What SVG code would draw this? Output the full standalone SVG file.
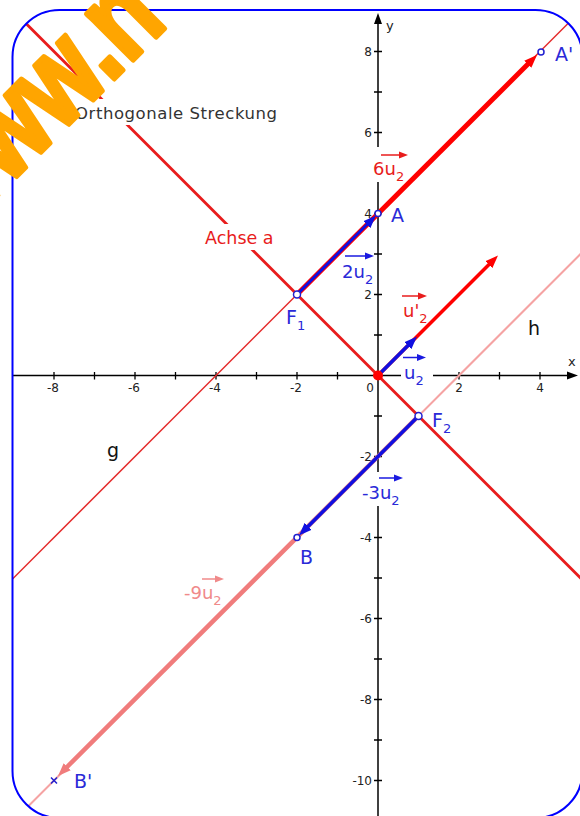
<svg xmlns="http://www.w3.org/2000/svg" width="580" height="816" viewBox="0 0 580 816">
<style>
.ax{stroke:#000;stroke-width:1.5;fill:none}
.tk{stroke:#000;stroke-width:1.3}
.tl{font-family:"DejaVu Sans",Verdana,sans-serif;font-size:12px;fill:#222}
.lbl{font-family:"DejaVu Sans",Verdana,sans-serif;font-size:18px}
.pt{font-family:"DejaVu Sans",Verdana,sans-serif;font-size:19px;fill:#2a2ad8}
.blue{fill:#2a2ad8}
.red{fill:#e81c1c}
.pink{fill:#f08a8a}
.blk{fill:#111}
.sub{font-size:13px}
.bg{fill:#fff}
</style>
<defs>
<clipPath id="frame"><rect x="12.5" y="10" width="570" height="808" rx="47" ry="47"/></clipPath>
<marker id="axh" markerUnits="userSpaceOnUse" markerWidth="12" markerHeight="10" viewBox="0 -5 12 10" refX="1" refY="0" orient="auto"><path d="M0,-4 L11,0 L0,4 z" fill="#000"/></marker>
<marker id="ahR" markerUnits="userSpaceOnUse" markerWidth="14" markerHeight="12" viewBox="0 -6 14 12" refX="1" refY="0" orient="auto"><path d="M0,-5 L13,0 L0,5 z" fill="#f00"/></marker>
<marker id="ahB" markerUnits="userSpaceOnUse" markerWidth="14" markerHeight="12" viewBox="0 -6 14 12" refX="1" refY="0" orient="auto"><path d="M0,-5 L13,0 L0,5 z" fill="#1010e0"/></marker>
<marker id="ahP" markerUnits="userSpaceOnUse" markerWidth="14" markerHeight="12" viewBox="0 -6 14 12" refX="1" refY="0" orient="auto"><path d="M0,-5 L13,0 L0,5 z" fill="#f07c7c"/></marker>
<marker id="smR" markerUnits="userSpaceOnUse" markerWidth="10" markerHeight="8" viewBox="0 -4 10 8" refX="1" refY="0" orient="auto"><path d="M0,-3.5 L9,0 L0,3.5 z" fill="#e81c1c"/></marker>
<marker id="smB" markerUnits="userSpaceOnUse" markerWidth="10" markerHeight="8" viewBox="0 -4 10 8" refX="1" refY="0" orient="auto"><path d="M0,-3.5 L9,0 L0,3.5 z" fill="#1a1ae0"/></marker>
<marker id="smP" markerUnits="userSpaceOnUse" markerWidth="10" markerHeight="8" viewBox="0 -4 10 8" refX="1" refY="0" orient="auto"><path d="M0,-3.5 L9,0 L0,3.5 z" fill="#f08a8a"/></marker>
</defs>
<rect width="580" height="816" fill="#fff"/>
<g clip-path="url(#frame)">
  <g id="axes">
    <line class="ax" x1="12" y1="375.5" x2="568" y2="375.5" marker-end="url(#axh)"/>
    <line class="ax" x1="378" y1="816" x2="378" y2="23" marker-end="url(#axh)"/>
    <path class="tk" d="M54,372v7.5M94.5,372v7.5M135,372v7.5M175.5,372v7.5M216,372v7.5M256.5,372v7.5M297,372v7.5M337.5,372v7.5M418.5,372v7.5M459,372v7.5M499.5,372v7.5M540,372v7.5"/>
    <path class="tk" d="M374,51.5h8M374,92h8M374,132.5h8M374,173h8M374,213.5h8M374,254h8M374,294.5h8M374,335h8M374,416h8M374,456.5h8M374,497h8M374,537.5h8M374,578h8M374,618.5h8M374,659h8M374,699.5h8M374,740h8M374,780.5h8"/>
    <g class="tl" text-anchor="middle">
      <text x="53" y="392">-8</text><text x="134" y="392">-6</text><text x="215" y="392">-4</text><text x="296" y="392">-2</text>
      <text x="370" y="392">0</text><text x="459" y="392">2</text><text x="540" y="392">4</text>
    </g>
    <g class="tl" text-anchor="end">
      <text x="372" y="56">8</text><text x="372" y="137">6</text><text x="372" y="218">4</text><text x="372" y="299">2</text>
      <text x="372" y="461">-2</text><text x="372" y="542">-4</text><text x="372" y="623">-6</text><text x="372" y="704">-8</text><text x="372" y="785">-10</text>
    </g>
    <text class="tl" x="568" y="366" style="font-size:13px">x</text>
    <text class="tl" x="386" y="30" style="font-size:13px">y</text>
  </g>
  <g id="connectors">
    <line id="line-g" x1="0" y1="591.5" x2="600" y2="-8.5" stroke="#e42a2a" stroke-width="1.5"/>
    <line id="line-h" x1="0" y1="834.5" x2="600" y2="234.5" stroke="#f5a3a3" stroke-width="2"/>
    <line id="axis-a" x1="0" y1="-2.5" x2="600" y2="597.5" stroke="#e81c1c" stroke-width="2.8"/>
  </g>
</g>
<g id="label-bgs">
  <rect class="bg" x="72" y="99" width="210" height="26"/>
  <rect class="bg" x="202" y="224" width="76" height="26"/>
  <rect class="bg" x="371" y="147" width="38" height="35"/>
  <rect class="bg" x="360" y="472" width="44" height="34"/>
  <rect class="bg" x="401" y="363" width="32" height="22"/>
</g>
<g id="vectors">
  <line id="v-6u2" x1="297" y1="294.5" x2="528.5" y2="63.5" stroke="#f00" stroke-width="5" marker-end="url(#ahR)"/>
  <line id="v-2u2" x1="297" y1="294.5" x2="367.5" y2="224" stroke="#1010e0" stroke-width="3" marker-end="url(#ahB)"/>
  <line id="v-u2p" x1="378" y1="375.5" x2="489.5" y2="264" stroke="#f00" stroke-width="3.5" marker-end="url(#ahR)"/>
  <line id="v-u2" x1="378" y1="375.5" x2="408.5" y2="345" stroke="#1010e0" stroke-width="3.5" marker-end="url(#ahB)"/>
  <line id="v-9u2" x1="418.5" y1="416" x2="66.5" y2="767.5" stroke="#f07c7c" stroke-width="4.5" marker-end="url(#ahP)"/>
  <line id="v-3u2" x1="418.5" y1="416" x2="307.5" y2="527" stroke="#1010e0" stroke-width="3.5" marker-end="url(#ahB)"/>
</g>
<g id="points">
  <g id="pt-A"><circle cx="378" cy="213.5" r="3" fill="#fff" stroke="#2020d0" stroke-width="1.5"/></g>
  <g id="pt-A2"><circle cx="541" cy="52" r="3" fill="#fff" stroke="#2020d0" stroke-width="1.5"/></g>
  <g id="pt-F1"><circle cx="297" cy="294.5" r="3.5" fill="#fff" stroke="#2020d0" stroke-width="1.5"/></g>
  <g id="pt-F2"><circle cx="418.5" cy="416" r="3.5" fill="#fff" stroke="#2020d0" stroke-width="1.5"/></g>
  <g id="pt-B"><circle cx="297" cy="537.5" r="3" fill="#fff" stroke="#2020d0" stroke-width="1.5"/></g>
  <g id="pt-B2"><path d="M51,777.5l6,6M57,777.5l-6,6" stroke="#2020d0" stroke-width="1.5"/></g>
  <g id="pt-O"><circle cx="378" cy="375.5" r="5" fill="#f00"/></g>
</g>
<g id="labels">
  <text x="75" y="119" style="font-family:'DejaVu Sans',Verdana,sans-serif;font-size:16.5px;fill:#333" textLength="202">Orthogonale Streckung</text>
  <text class="lbl red" x="205" y="244" style="font-size:17.5px">Achse a</text>
  <g id="lbl-6u2"><line x1="381" y1="155" x2="400" y2="155" stroke="#e81c1c" stroke-width="1.5" marker-end="url(#smR)"/><text class="lbl red" x="373" y="175">6u<tspan class="sub" dy="6">2</tspan></text></g>
  <g id="lbl-2u2"><line x1="345" y1="256" x2="366" y2="256" stroke="#1a1ae0" stroke-width="1.5" marker-end="url(#smB)"/><text class="lbl blue" x="342" y="278">2u<tspan class="sub" dy="6">2</tspan></text></g>
  <g id="lbl-u2p"><line x1="402" y1="296" x2="419" y2="296" stroke="#e81c1c" stroke-width="1.5" marker-end="url(#smR)"/><text class="lbl red" x="403" y="317">u'<tspan class="sub" dy="6">2</tspan></text></g>
  <g id="lbl-u2"><line x1="403" y1="357.5" x2="418" y2="357.5" stroke="#1a1ae0" stroke-width="1.5" marker-end="url(#smB)"/><text class="lbl blue" x="404" y="379">u<tspan class="sub" dy="6">2</tspan></text></g>
  <g id="lbl-3u2"><line x1="379" y1="478" x2="395" y2="478" stroke="#1a1ae0" stroke-width="1.5" marker-end="url(#smB)"/><text class="lbl blue" x="362" y="499">-3u<tspan class="sub" dy="6">2</tspan></text></g>
  <g id="lbl-9u2"><line x1="202" y1="579" x2="216" y2="579" stroke="#f08a8a" stroke-width="1.5" marker-end="url(#smP)"/><text class="lbl pink" x="184" y="599">-9u<tspan class="sub" dy="6">2</tspan></text></g>
  <text class="pt" x="391" y="222">A</text>
  <text class="pt" x="555" y="61">A'</text>
  <text class="pt" x="286" y="324">F<tspan class="sub" dy="6">1</tspan></text>
  <text class="pt" x="432" y="427">F<tspan class="sub" dy="6">2</tspan></text>
  <text class="pt" x="300" y="564">B</text>
  <text class="pt" x="74" y="788">B'</text>
  <text class="lbl blk" x="528" y="335" style="font-size:19px">h</text>
  <text class="lbl blk" x="107" y="457" style="font-size:19px">g</text>
</g>
<rect id="frame-border" x="12.5" y="10" width="570" height="808" rx="47" ry="47" fill="none" stroke="#0000ff" stroke-width="2"/>
<text id="watermark" transform="translate(-45,238) rotate(-45) scale(1,1.3)" style="font-family:'Liberation Sans',Arial,sans-serif;font-weight:bold;font-size:95px;fill:#ffa500;stroke:#ffa500;stroke-width:4;stroke-linejoin:round">www.n</text>
</svg>
